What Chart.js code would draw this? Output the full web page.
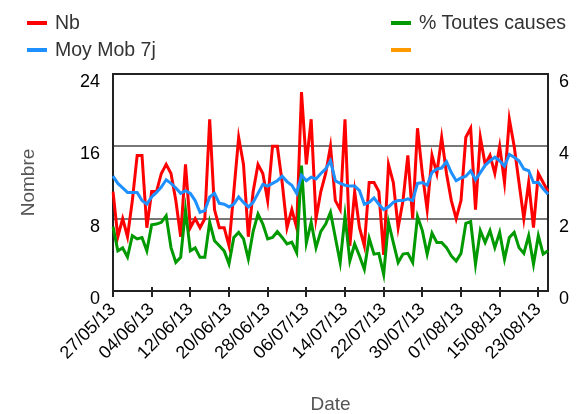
<!DOCTYPE html>
<html>
<head>
<meta charset="utf-8">
<script src="https://cdn.jsdelivr.net/npm/chart.js@4.4.0/dist/chart.umd.min.js"></script>
<style>
  body { margin: 0; background: #fff; }
  #wrap { position: relative; width: 585px; height: 414px; }
  .leg { position: absolute; height: 24px; line-height: 24px; padding-left: 28px;
         font: 19.5px 'Liberation Sans', Arial, sans-serif; color: #333; white-space: nowrap; }
  .leg span { position: absolute; left: 0; top: 10px; width: 20px; height: 4px; }
</style>
</head>
<body>
<div id="wrap">
  <canvas id="chart" width="585" height="414"></canvas>
</div>
<script>
// dates (one per day)
const dates = [
  '27/05/13','28/05/13','29/05/13','30/05/13','31/05/13',
  '01/06/13','02/06/13','03/06/13','04/06/13','05/06/13','06/06/13','07/06/13','08/06/13','09/06/13','10/06/13',
  '11/06/13','12/06/13','13/06/13','14/06/13','15/06/13','16/06/13','17/06/13','18/06/13','19/06/13','20/06/13',
  '21/06/13','22/06/13','23/06/13','24/06/13','25/06/13','26/06/13','27/06/13','28/06/13','29/06/13','30/06/13',
  '01/07/13','02/07/13','03/07/13','04/07/13','05/07/13','06/07/13','07/07/13','08/07/13','09/07/13','10/07/13',
  '11/07/13','12/07/13','13/07/13','14/07/13','15/07/13','16/07/13','17/07/13','18/07/13','19/07/13','20/07/13',
  '21/07/13','22/07/13','23/07/13','24/07/13','25/07/13','26/07/13','27/07/13','28/07/13','29/07/13','30/07/13',
  '31/07/13','01/08/13','02/08/13','03/08/13','04/08/13','05/08/13','06/08/13','07/08/13','08/08/13','09/08/13',
  '10/08/13','11/08/13','12/08/13','13/08/13','14/08/13','15/08/13','16/08/13','17/08/13','18/08/13','19/08/13',
  '20/08/13','21/08/13','22/08/13','23/08/13','24/08/13','25/08/13'
];

const nb = [
  11, 6, 8, 6, 10, 15, 15, 7, 11, 11, 13, 14, 13, 10, 6, 14, 7, 8, 7, 8,
  19, 9, 7, 7, 5, 11, 17, 14, 6, 11, 14, 13, 10, 16, 16, 12, 7, 9, 7, 22,
  14, 19, 8, 11, 13, 16, 10, 9, 19, 5, 11, 7, 5, 12, 12, 11, 4, 14, 12, 7,
  10, 15, 8, 18, 13, 9, 15, 13, 17, 13, 10, 8, 10, 17, 18, 9, 17, 14, 15, 13,
  16, 12, 19, 16, 12, 8, 12, 7, 13, 12, 11
];

const moyMob7j = [
  12.7, 11.9, 11.4, 10.9, 10.9, 10.9, 10.0, 9.6, 10.4, 10.9, 11.5, 12.3, 11.9, 11.4, 10.8, 11.1, 10.8, 10.0, 8.7, 8.9,
  10.4, 10.8, 9.7, 9.6, 9.3, 9.6, 10.4, 9.8, 9.3, 9.8, 10.8, 11.8, 11.6, 11.9, 12.2, 12.7, 12.1, 11.7, 10.8, 12.8,
  12.2, 12.6, 12.4, 13.0, 13.5, 14.4, 12.2, 11.9, 11.7, 11.6, 11.6, 11.1, 9.6, 9.8, 10.3, 9.6, 9.0, 9.3, 9.8, 10.0,
  10.0, 10.2, 10.0, 11.9, 12.0, 11.7, 13.1, 13.5, 13.6, 14.3, 13.1, 12.2, 12.5, 12.7, 13.3, 12.3, 13.1, 13.9, 14.4, 14.8,
  14.4, 13.8, 15.1, 14.8, 14.4, 13.5, 13.3, 12.0, 12.0, 11.3, 10.7
];

const pctToutesCauses = [
  1.78, 1.11, 1.19, 0.94, 1.53, 1.44, 1.48, 1.11, 1.83, 1.85, 1.90, 2.08, 1.20, 0.79, 0.93, 2.24, 1.11, 1.19, 0.93, 0.93,
  1.90, 1.39, 1.25, 1.11, 0.75, 1.48, 1.62, 1.44, 0.89, 1.65, 2.13, 1.85, 1.44, 1.48, 1.64, 1.48, 1.30, 1.35, 1.06, 3.47,
  1.33, 1.90, 1.20, 1.65, 1.85, 2.18, 1.48, 0.79, 2.08, 0.83, 1.30, 0.97, 0.60, 1.46, 1.02, 1.04, 0.46, 1.90, 1.34, 0.79,
  1.02, 1.04, 0.79, 2.06, 1.67, 1.02, 1.60, 1.34, 1.34, 1.20, 0.97, 0.83, 1.04, 1.87, 1.92, 0.74, 1.67, 1.34, 1.67, 1.20,
  1.62, 0.88, 1.48, 1.62, 1.20, 1.04, 1.53, 0.74, 1.53, 1.02, 1.11
];

const seriesNames = ['Nb', 'Moy Mob 7j', '% Toutes causes', ''];
const leftTicks = [0, 8, 16, 24];
const rightTicks = [0, 2, 4, 6];

const colors = ['#ff0000', '#1e90ff', '#009900', '#ff9900'];
const FONT = "'Liberation Sans', Arial, sans-serif";

// legend, 2 columns
const legPos = [[27, 11], [27, 38], [391, 11], [391, 38]];
const wrap = document.getElementById('wrap');
seriesNames.forEach((name, i) => {
  const d = document.createElement('div');
  d.className = 'leg';
  d.style.left = legPos[i][0] + 'px';
  d.style.top = legPos[i][1] + 'px';
  d.innerHTML = '<span style="background:' + colors[i] + '"></span>';
  d.appendChild(document.createTextNode(name));
  wrap.appendChild(d);
});

// box around the plot area + short tick stubs above the x axis
const frame = {
  id: 'frame',
  beforeDatasetsDraw(chart) {
    const { ctx, chartArea: a } = chart;
    const xs = chart.scales.x;
    ctx.save();
    ctx.strokeStyle = '#222';
    ctx.lineWidth = 2;
    ctx.strokeRect(a.left, a.top, a.right - a.left, a.bottom - a.top);
    ctx.beginPath();
    for (let i = 0; i < dates.length; i += 8) {
      const px = Math.round(xs.getPixelForValue(i));
      ctx.moveTo(px, a.bottom);
      ctx.lineTo(px, a.bottom - 4);
    }
    ctx.stroke();
    ctx.restore();
  }
};

const line = (label, data, color, axis, order) => ({
  label, data, yAxisID: axis, order,
  borderColor: color, backgroundColor: color,
  borderWidth: 3, pointRadius: 0, tension: 0, fill: false
});

new Chart(document.getElementById('chart'), {
  type: 'line',
  data: {
    labels: dates,
    datasets: [
      line(seriesNames[0], nb, colors[0], 'y', 2),
      line(seriesNames[1], moyMob7j, colors[1], 'y', 0),
      line(seriesNames[2], pctToutesCauses, colors[2], 'y1', 1),
      line(seriesNames[3], [], colors[3], 'y', 3)
    ]
  },
  options: {
    responsive: false,
    animation: false,
    layout: { padding: { top: 74, left: 0, right: 0, bottom: 0 } },
    plugins: { legend: { display: false }, tooltip: { enabled: false } },
    scales: {
      x: {
        offset: false,
        border: { display: false },
        grid: {
          drawOnChartArea: false, drawTicks: true, tickLength: 6, lineWidth: 2,
          color: c => (c.index % 8 === 0 ? '#222' : 'rgba(0,0,0,0)')
        },
        ticks: {
          autoSkip: false, minRotation: 45, maxRotation: 45, padding: 2,
          color: '#000', font: { family: FONT, size: 18 },
          callback: (v, i) => (i % 8 === 0 ? dates[i] : '')
        },
        title: { display: true, text: 'Date', color: '#555', font: { family: FONT, size: 19 }, padding: { top: 0, bottom: -2 } },
        afterFit: s => { s.height = 123; }
      },
      y: {
        position: 'left', min: 0, max: 24,
        border: { display: false },
        afterBuildTicks: s => { s.ticks = leftTicks.map(v => ({ value: v })); },
        grid: {
          drawTicks: false, lineWidth: 2,
          color: c => (c.tick && (c.tick.value === 8 || c.tick.value === 16) ? '#777' : 'rgba(0,0,0,0)')
        },
        ticks: { padding: 13, labelOffset: 8, color: '#000', font: { family: FONT, size: 18 } },
        title: { display: true, text: 'Nombre', color: '#555', font: { family: FONT, size: 19 }, padding: { top: 17, bottom: 0 } },
        afterFit: s => { s.width = 113; }
      },
      y1: {
        position: 'right', min: 0, max: 6,
        border: { display: false },
        afterBuildTicks: s => { s.ticks = rightTicks.map(v => ({ value: v })); },
        grid: { display: false, drawTicks: false },
        ticks: { padding: 11, labelOffset: 8, color: '#000', font: { family: FONT, size: 18 } },
        afterFit: s => { s.width = 37; }
      }
    }
  },
  plugins: [frame]
});
</script>
</body>
</html>
